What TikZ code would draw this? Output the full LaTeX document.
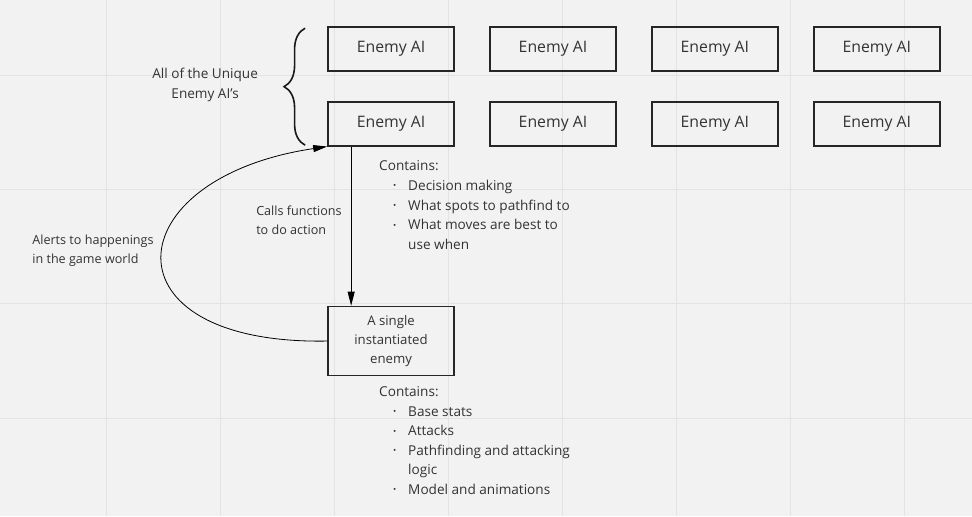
\documentclass[tikz,border=0pt]{standalone}
\usepackage{fontspec}
\setmainfont{Open Sans}
\usepackage{tikz}
\usetikzlibrary{arrows.meta}
\usetikzlibrary{decorations.pathreplacing}

\definecolor{paper}{HTML}{F2F2F2}
\definecolor{gridline}{HTML}{E3E3E3}
\definecolor{ink}{HTML}{333333}
\newcommand{\bul}{\hspace*{14pt}\makebox[15pt][l]{\raisebox{1.6pt}{\fontsize{8.5}{8}\selectfont •}}}

\begin{document}
\begin{tikzpicture}[
    x=1pt, y=-1pt,
    font=\fontsize{13.6}{19.6}\selectfont,
    text=ink,
    aibox/.style={rectangle,draw=black!85,line width=1.8pt,minimum width=126pt,minimum height=44pt,font=\fontsize{15.8}{18}\selectfont},
    label/.style={align=left,inner sep=0pt},
    small/.style={font=\fontsize{12.6}{19}\selectfont},
    arrow/.style={-{Triangle[length=14pt,width=7pt]},line width=0.8pt},
]

% 背景和网格
\fill[paper] (0,0) rectangle (972,516);
\foreach \gx in {106,220,334,448,562,676,790,904}
    \draw[gridline] (\gx,0) -- (\gx,516);
\foreach \gy in {75,189,303,418}
    \draw[gridline] (0,\gy) -- (972,\gy);
\useasboundingbox (0,0) rectangle (972,516);

% 上面两排 Enemy AI
\foreach \i in {1,...,4} {
    \node[aibox] (ai\i) at ({391+162*(\i-1)},48.5) {Enemy AI};
    \pgfmathtruncatemacro{\j}{\i+4}
    \node[aibox] (ai\j) at ({391+162*(\i-1)},123.5) {Enemy AI};
}

% 单个敌人
\node[aibox,minimum height=69pt,align=center,font=\fontsize{13.2}{19}\selectfont] (single) at (391,341) {A single\\instantiated\\enemy};

% 文字说明
\node[label,align=center] (unique) at (205,85) {All of the Unique\\Enemy AI's};
\node[label,small,anchor=west] (calls) at (256,220.5) {Calls functions\\to do action};
\node[label,small,anchor=west] (alerts) at (32,250.5) {Alerts to happenings\\in the game world};
\node[label,anchor=west] (aiinfo) at (379,205) {Contains:\\\bul Decision making\\\bul What spots to pathfind to\\\bul What moves are best to\\\hspace*{29pt}use when};
\node[label,anchor=west] (enemyinfo) at (379,440.5) {Contains:\\\bul Base stats\\\bul Attacks\\\bul Pathfinding and attacking\\\hspace*{29pt}logic\\\bul Model and animations};

% 大括号
\coordinate (bracetop) at (305,28);
\coordinate (bracebot) at (305,145);
\draw[line width=1.6pt,black!90,decorate,decoration={brace,amplitude=21pt}] (bracebot) -- (bracetop);

% 连线
\draw[arrow] ([xshift=24pt]ai5.south west) -- ([xshift=24pt]single.north west);
\draw[arrow] (single.west) .. controls (100,345) and (115,178) .. (ai5.south west);

\end{tikzpicture}
\end{document}
